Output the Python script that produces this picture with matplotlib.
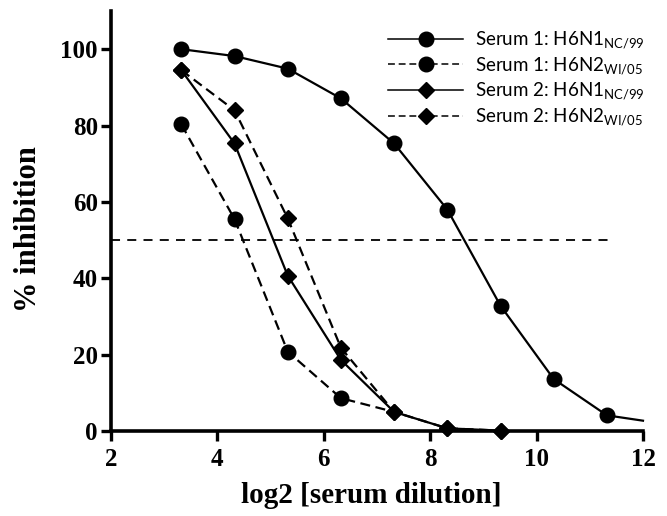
import numpy as np
import matplotlib
matplotlib.use("Agg")
import matplotlib.pyplot as plt

# serum dilutions (x axis is log2 of these)
dilutions = [10, 20, 40, 80, 160, 320, 640, 1280, 2560, 4096]

s1_h6n1 = [100, 98.2, 94.9, 87.1, 75.3, 58.0, 32.8, 13.6, 4.1, 2.7]
s1_h6n2 = [80.3, 55.5, 20.8, 8.6, 5.0]
s2_h6n1 = [94.5, 75.3, 40.7, 18.6, 5.0, 0.7, 0.1]
s2_h6n2 = [94.5, 84.0, 55.7, 21.8, 5.0, 0.7, 0.1]

threshold = 50
threshold_span = [2, 11.4]

labels = [r"Serum 1: H6N1$_{\mathregular{NC/99}}$",
          r"Serum 1: H6N2$_{\mathregular{WI/05}}$",
          r"Serum 2: H6N1$_{\mathregular{NC/99}}$",
          r"Serum 2: H6N2$_{\mathregular{WI/05}}$"]

x = np.log2(dilutions)

fig = plt.figure(figsize=(6.67, 5.16), dpi=100)
ax = fig.add_axes([111/667, 1-431/516, (643-111)/667, (431-11)/516])

serif = "Liberation Serif"
dash = (0, (4.5, 2.5))
lw = 1.6

ax.plot(x[:len(s1_h6n1)], s1_h6n1, color="black", lw=lw, marker="o", ms=10.5,
        markevery=list(range(9)), clip_on=False, label=labels[0])
ax.plot(x[:len(s1_h6n2)], s1_h6n2, color="black", lw=lw, ls=dash, marker="o", ms=10.5,
        markevery=list(range(4)), clip_on=False, label=labels[1])
ax.plot(x[:len(s2_h6n1)], s2_h6n1, color="black", lw=lw, marker="D", ms=8.5,
        clip_on=False, label=labels[2])
ax.plot(x[:len(s2_h6n2)], s2_h6n2, color="black", lw=lw, ls=dash, marker="D", ms=8.5,
        clip_on=False, label=labels[3])

ax.hlines(threshold, threshold_span[0], threshold_span[1], colors="black",
          lw=1.3, linestyles=(0, (5, 4)))

ax.set_xlim(2, 12)
ax.set_ylim(0, 110)
ax.set_xticks([2, 4, 6, 8, 10, 12])
ax.set_yticks([0, 20, 40, 60, 80, 100])

for side in ["top", "right"]:
    ax.spines[side].set_visible(False)
for side in ["left", "bottom"]:
    ax.spines[side].set_linewidth(2.6)
ax.tick_params(direction="out", length=7.5, width=2.4, pad=2)
ax.tick_params(axis="x", pad=5)
for lbl in ax.get_xticklabels() + ax.get_yticklabels():
    lbl.set_fontfamily(serif)
    lbl.set_fontweight("bold")
    lbl.set_fontsize(18)

ax.set_xlabel("log2 [serum dilution]", fontfamily=serif, fontweight="bold", fontsize=21)
ax.set_ylabel("% inhibition", fontfamily=serif, fontweight="bold", fontsize=22)
ax.xaxis.set_label_coords(0.489, -0.122)
ax.yaxis.set_label_coords(-0.128, 0.481)

leg = fig.legend(loc="upper left", bbox_to_anchor=(379/667, 1-20/516), frameon=False,
                 borderpad=0, handlelength=4.0, handletextpad=0.6, labelspacing=0.22,
                 prop={"family": "Lato", "size": 13.5})
for h in leg.legend_handles:
    h.set_linewidth(1.1)

fig.savefig("out.png", dpi=100)
